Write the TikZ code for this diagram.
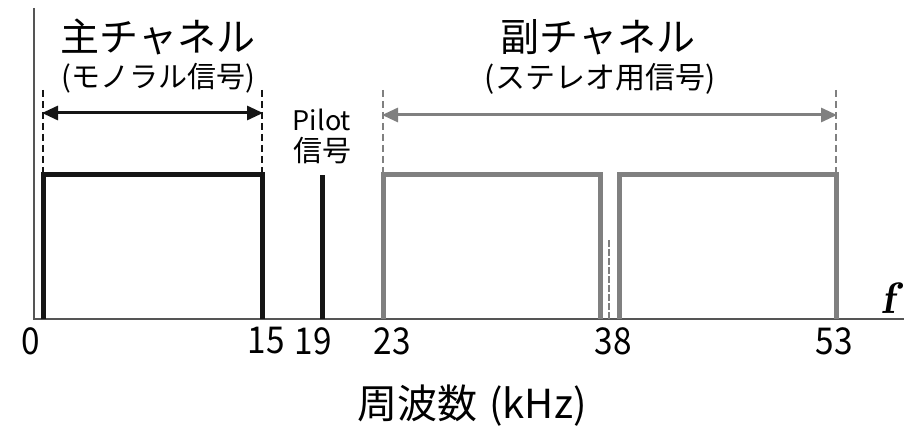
\documentclass[tikz,border=0pt]{standalone}
\usepackage{fontspec}
\setmainfont{Noto Sans CJK JP}
\usetikzlibrary{arrows.meta}
\definecolor{blk}{HTML}{151515}
\definecolor{gry}{HTML}{808080}
\definecolor{axg}{HTML}{555555}
\tikzset{
  axisline/.style={draw=axg, line width=2.5pt},
  band/.style={line width=5pt, line join=miter, line cap=butt},
  guide/.style={line width=1.5pt, dash pattern=on 7pt off 4pt},
  span/.style={line width=3pt, {Triangle[length=16pt,width=14pt]}-{Triangle[length=16pt,width=14pt]}, shorten <=-1pt, shorten >=-1pt},
  lbl/.style={inner sep=0pt, anchor=center},
  tick/.style={lbl, font=\fontsize{37}{37}\selectfont, xscale=0.9},
}
\begin{document}
\begin{tikzpicture}[x=1pt,y=-1pt]
\useasboundingbox (0,0) rectangle (904,430);
% axes
\coordinate (yt) at (34,8);
\coordinate (o) at (34,319);
\coordinate (xe) at (904,319);
\draw[axisline] (yt) -- (o) -- (xe);
% main channel
\coordinate (m0) at (43,319); \coordinate (m0t) at (43,175);
\coordinate (m1) at (262,319); \coordinate (m1t) at (262,175);
\draw[band, blk] (m0) -- (m0t) -- (m1t) -- (m1);
\draw[guide, blk] (43,90) -- (m0t);
\draw[guide, blk] (262,90) -- (m1t);
\coordinate (ma) at (43,113); \coordinate (mb) at (262,113);
\draw[span, blk] (ma) -- (mb);
% pilot
\coordinate (p0) at (322,319); \coordinate (p1) at (322,175);
\draw[band, blk] (p0) -- (p1);
% sub channel
\coordinate (s0) at (383,319); \coordinate (s0t) at (383,175);
\coordinate (s1) at (600,319); \coordinate (s1t) at (600,175);
\coordinate (s2) at (619,319); \coordinate (s2t) at (619,175);
\coordinate (s3) at (836,319); \coordinate (s3t) at (836,175);
\draw[band, gry] (s0) -- (s0t) -- (s1t) -- (s1);
\draw[band, gry] (s2) -- (s2t) -- (s3t) -- (s3);
\draw[gry, line width=1.5pt, dash pattern=on 7pt off 2pt] (609,240) -- (609,319);
\draw[guide, gry] (383,90) -- (s0t);
\draw[guide, gry] (836,90) -- (s3t);
\coordinate (sa) at (383,115); \coordinate (sb) at (836,115);
\draw[span, gry] (sa) -- (sb);
% texts
\node[lbl, font=\fontsize{39}{39}\selectfont] (t1) at (158,37) {主チャネル};
\node[lbl, font=\fontsize{29}{29}\selectfont] (t2) at (158,78) {(モノラル信号)};
\node[lbl, font=\fontsize{39}{39}\selectfont] (t3) at (598,37) {副チャネル};
\node[lbl, font=\fontsize{30}{30}\selectfont] (t4) at (600,79) {(ステレオ用信号)};
\node[lbl, font=\fontsize{27}{27}\selectfont] (pl) at (322,120) {Pilot};
\node[lbl, font=\fontsize{29}{29}\selectfont] (ps) at (322,151) {信号};
\node[tick] (l0) at (31,341) {0};
\node[tick] (l15) at (266,341) {15};
\node[tick] (l19) at (313,341) {19};
\node[tick] (l23) at (392,341) {23};
\node[tick] (l38) at (613,341) {38};
\node[tick] (l53) at (834,341) {53};
\node[lbl, font=\fontsize{40}{40}\selectfont] (xl) at (472,406) {周波数\hspace{0.3em}(kHz)};
\node[lbl, font=\fontsize{44}{44}\fontfamily{lmr}\fontseries{b}\fontshape{it}\selectfont] (fl) at (888,298) {f};
\end{tikzpicture}
\end{document}
